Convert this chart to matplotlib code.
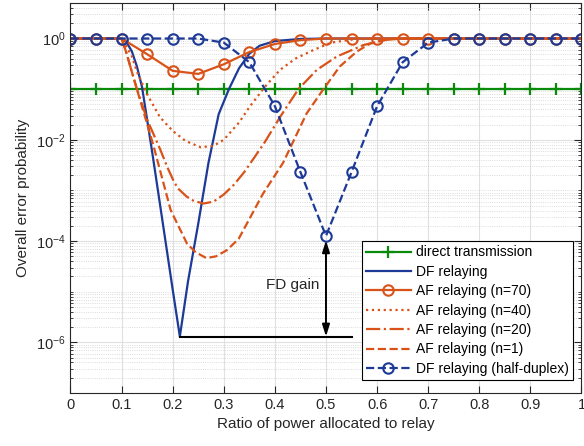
import numpy as np
import matplotlib.pyplot as plt
from matplotlib.ticker import FixedLocator, LogLocator, NullFormatter

plt.rcParams['font.family'] = ['Liberation Sans', 'DejaVu Sans']
plt.rcParams['mathtext.fontset'] = 'custom'
plt.rcParams['mathtext.rm'] = 'Liberation Sans'

# marker grid (every 0.05)
x_mk = [0, 0.05, 0.1, 0.15, 0.2, 0.25, 0.3, 0.35, 0.4, 0.45, 0.5,
        0.55, 0.6, 0.65, 0.7, 0.75, 0.8, 0.85, 0.9, 0.95, 1.0]

# direct transmission
direct_y = [0.1] * 21

# DF relaying (full duplex)
df_x = [0, 0.1, 0.11, 0.12, 0.13, 0.14, 0.16, 0.18, 0.2, 0.214, 0.23, 0.25,
        0.27, 0.29, 0.31, 0.33, 0.35, 0.37, 0.4, 0.45, 0.5, 1.0]
df_y = [1, 1, 0.83, 0.56, 0.28, 0.11, 5.6e-3, 2.5e-4, 1.1e-5, 1.3e-6, 1.6e-5, 2.2e-4,
        3.5e-3, 3.2e-2, 0.1, 0.26, 0.5, 0.72, 0.89, 0.98, 1, 1]

# AF relaying n=70 (markers)
af70_y = [1, 1, 1, 0.49, 0.23, 0.20, 0.31, 0.54, 0.78, 0.93, 1,
          1, 1, 1, 1, 1, 1, 1, 1, 1, 1]

# AF relaying n=40
af40_x = [0, 0.1, 0.12, 0.13, 0.15, 0.175, 0.2, 0.225, 0.255, 0.28, 0.3, 0.33,
          0.35, 0.38, 0.41, 0.44, 0.475, 0.51, 0.55, 0.6, 1.0]
af40_y = [1, 1, 0.45, 0.22, 0.079, 0.028, 0.015, 9.5e-3, 7.1e-3, 7.6e-3, 0.01, 0.022,
          0.044, 0.11, 0.24, 0.40, 0.59, 0.83, 0.95, 1, 1]

# AF relaying n=20
af20_x = [0, 0.1, 0.11, 0.12, 0.13, 0.15, 0.176, 0.19, 0.201, 0.21, 0.227, 0.24, 0.26,
          0.28, 0.3, 0.32, 0.34, 0.36, 0.38, 0.41, 0.446, 0.482, 0.521, 0.573, 0.612,
          0.65, 1.0]
af20_y = [1, 1, 0.5, 0.22, 0.1, 0.025, 6.3e-3, 2.8e-3, 1.6e-3, 1.1e-3, 7.6e-4, 6.3e-4,
          5.5e-4, 6.0e-4, 8.3e-4, 1.3e-3, 2.3e-3, 4.5e-3, 8.9e-3, 0.028, 0.1, 0.24,
          0.44, 0.74, 0.93, 1, 1]

# AF relaying n=1
af1_x = [0, 0.1, 0.11, 0.12, 0.13, 0.162, 0.196, 0.21, 0.228, 0.245, 0.266, 0.285,
         0.306, 0.329, 0.377, 0.416, 0.462, 0.495, 0.527, 0.56, 0.586, 0.625, 0.65, 1.0]
af1_y = [1, 1, 0.5, 0.22, 0.1, 7.9e-3, 4.1e-4, 2.1e-4, 8.9e-5, 6.0e-5, 4.6e-5, 5.0e-5,
         6.6e-5, 1.1e-4, 8.7e-4, 3.5e-3, 0.033, 0.1, 0.28, 0.55, 0.79, 0.98, 1, 1]

# DF relaying half duplex (markers)
hd_y = [1, 1, 1, 1, 1, 1, 0.83, 0.34, 0.046, 2.3e-3, 1.26e-4,
        2.3e-3, 0.046, 0.34, 0.83, 1, 1, 1, 1, 1, 1]

blue = '#1c3a96'
orange = '#d95319'
green = '#0a8a0a'
dark = '#262626'

fig = plt.figure(figsize=(5.84, 4.46), dpi=100)
ax = fig.add_axes([0.1207, 0.119, 0.875, 0.874])

ax.plot(x_mk, direct_y, '-+', color=green, lw=1.6, ms=8, mew=1.6, label='direct transmission')
ax.plot(df_x, df_y, '-', color=blue, lw=1.6, label='DF relaying')
ax.plot(x_mk, af70_y, '-o', color=orange, lw=1.6, ms=7.5, mew=1.5, mfc='none', label='AF relaying (n=70)')
ax.plot(af40_x, af40_y, ':', color=orange, lw=1.6, label='AF relaying (n=40)')
ax.plot(af20_x, af20_y, '-.', color=orange, lw=1.6, label='AF relaying (n=20)')
ax.plot(af1_x, af1_y, '--', color=orange, lw=1.6, label='AF relaying (n=1)')
ax.plot(x_mk, hd_y, '--o', color=blue, lw=1.6, ms=7.5, mew=1.5, mfc='none', label='DF relaying (half-duplex)')

# FD gain annotation
i_min = int(np.argmin(df_y))
i_hd = int(np.argmin(hd_y))
ax.plot([df_x[i_min], 0.55], [df_y[i_min], df_y[i_min]], color='k', lw=1.5)
ax.annotate('', xy=(x_mk[i_hd], hd_y[i_hd] * 0.82), xytext=(x_mk[i_hd], df_y[i_min]),
            arrowprops=dict(arrowstyle='<|-|>,head_length=0.7,head_width=0.22',
                            color='k', lw=1.4, shrinkA=0, shrinkB=0))
ax.text(0.487, 1.35e-5, 'FD gain', ha='right', va='center', fontsize=11, color=dark)

ax.set_yscale('log')
ax.set_xlim(0, 1)
ax.set_ylim(1e-7, 5)
ax.set_xticks(np.arange(0, 1.01, 0.1))
ax.set_xticklabels(['0', '0.1', '0.2', '0.3', '0.4', '0.5', '0.6', '0.7', '0.8', '0.9', '1'])
ax.yaxis.set_major_locator(FixedLocator([1e-6, 1e-4, 1e-2, 1]))
ax.yaxis.set_minor_locator(LogLocator(base=10, subs=np.arange(1, 10), numticks=30))
ax.yaxis.set_minor_formatter(NullFormatter())

ax.tick_params(which='both', direction='in', top=True, right=True, colors=dark, labelsize=10.5)
ax.tick_params(which='major', length=5, width=0.8)
ax.tick_params(which='minor', length=2.5, width=0.6)
ax.grid(which='major', color='#e0e0e0', lw=0.8)
ax.grid(which='minor', axis='y', color='#d0d0d0', lw=0.6, ls=':')
ax.set_axisbelow(True)
for s in ax.spines.values():
    s.set_color(dark)
    s.set_linewidth(0.8)

ax.set_xlabel('Ratio of power allocated to relay', fontsize=11, color=dark)
ax.set_ylabel('Overall error probability', fontsize=11, color=dark)

leg = ax.legend(loc='lower right', bbox_to_anchor=(0.984, 0.033), borderaxespad=0,
                fontsize=10, labelspacing=0.39, handlelength=3.2, handletextpad=0.4,
                borderpad=0.3, fancybox=False, framealpha=1, edgecolor='k')
leg.get_frame().set_linewidth(0.8)

fig.savefig('out.png', dpi=100)
